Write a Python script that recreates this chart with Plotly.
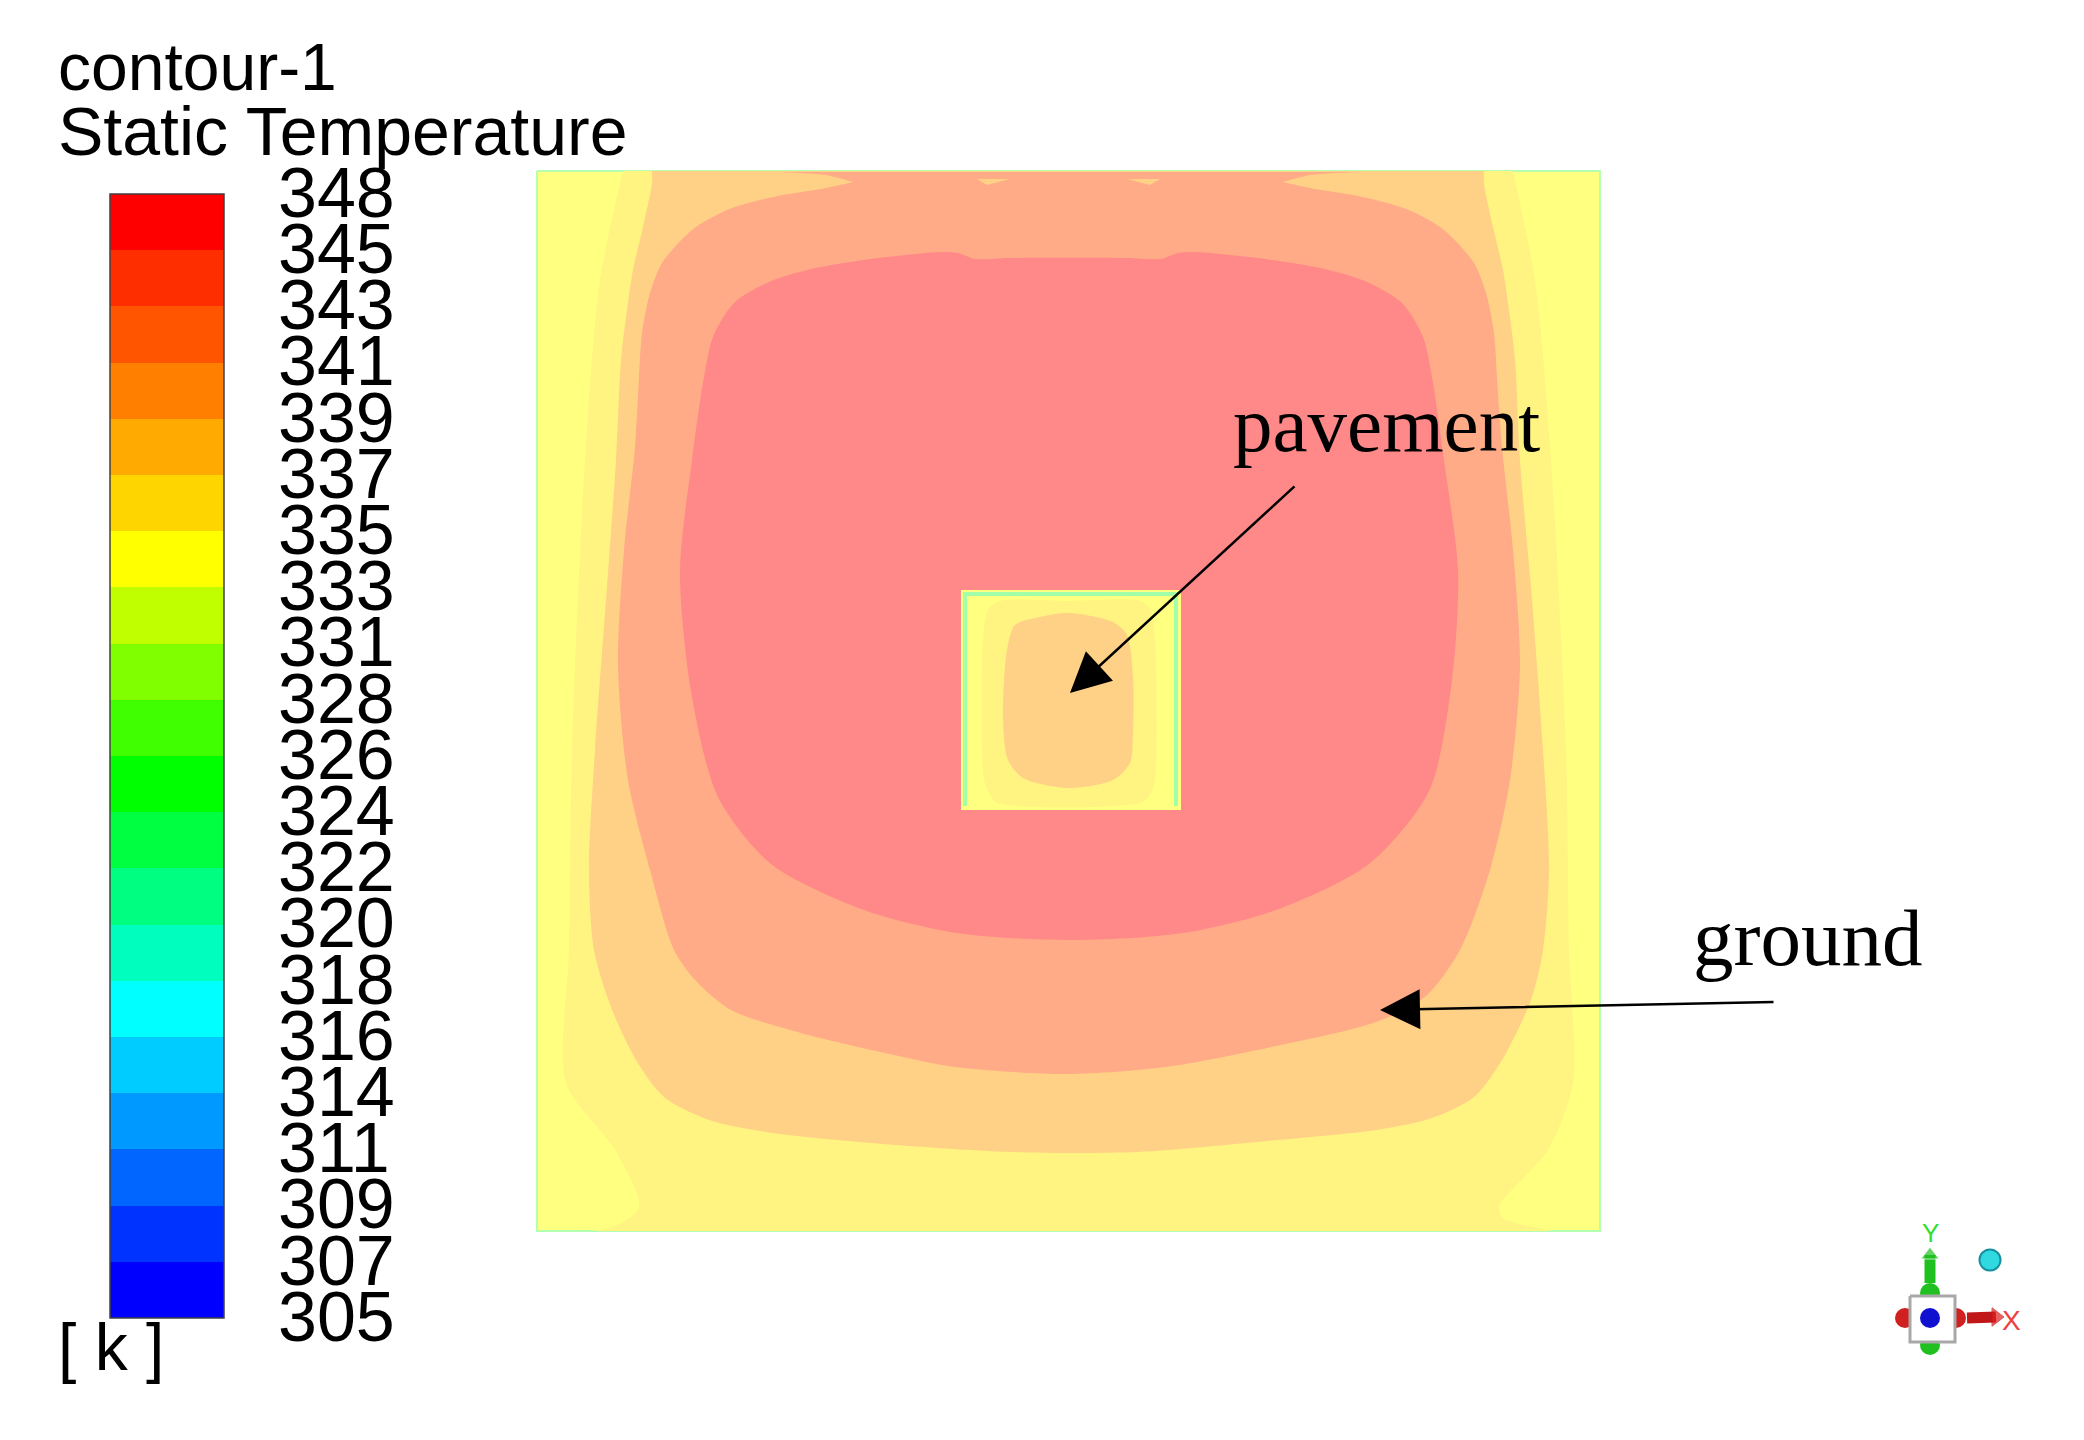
"""Static temperature contour of a pavement slab and the ground around it."""
import plotly.graph_objects as go

# canvas is the picture itself, x and y in pixels from the top left
W, H = 2084, 1440

# legend
band_colors = ["#FF0000", "#FF2E00", "#FF5500", "#FF8000", "#FFAA00", "#FFD500", "#FFFF00",
               "#BFFF00", "#80FF00", "#40FF00", "#00FF00", "#00FF40", "#00FF80", "#00FFBF",
               "#00FFFF", "#00CCFF", "#0099FF", "#0066FF", "#0033FF", "#0000FF"]
tick_labels = ["348", "345", "343", "341", "339", "337", "335", "333", "331", "328", "326",
               "324", "322", "320", "318", "316", "314", "311", "309", "307", "305"]
BAR_LEFT, BAR_RIGHT, BAR_TOP, BAR_BOTTOM = 110, 224, 194, 1318

# contour bands, outer to inner; a repeated point is a sharp corner
domain_x = [537, 1600, 1600, 537, 537]
domain_y = [171, 171, 1231, 1231, 171]

band_a = [(623, 171), (623, 171), (1513, 171), (1513, 171), (1535, 280), (1551, 460), (1566, 750),
          (1569, 950), (1573, 1083), (1548, 1150), (1499, 1207), (1503, 1218), (1537, 1228),
          (1552, 1231), (1552, 1231), (585, 1231), (585, 1231), (611, 1228), (639, 1207), (615, 1150),
          (566, 1083), (569, 950), (572, 750), (585, 460), (600, 280)]
band_b = [(652, 171), (652, 171), (1484, 171), (1484, 171), (1484, 183), (1493, 227), (1503, 270),
          (1509, 310), (1515, 360), (1520, 460), (1532, 600), (1543, 750), (1549, 870), (1543, 950),
          (1531, 1000), (1502, 1060), (1474, 1097), (1432, 1118), (1376, 1130), (1278, 1140),
          (1138, 1152), (1011, 1152), (871, 1143), (766, 1132), (709, 1120), (664, 1097), (636, 1060),
          (611, 1007), (594, 950), (589, 870), (595, 750), (606, 600), (616, 460), (621, 360),
          (627, 310), (633, 270), (643, 227), (652, 183)]
band_c = [(773, 172), (773, 172), (1363, 172), (1363, 172), (1310, 175), (1283, 182), (1283, 182),
          (1310, 188), (1363, 197), (1409, 210), (1444, 230), (1474, 263), (1486, 293), (1494, 333),
          (1497, 377), (1502, 447), (1513, 550), (1520, 665), (1510, 780), (1490, 870), (1460, 950),
          (1425, 997), (1376, 1022), (1257, 1050), (1166, 1067), (1067, 1074), (955, 1067), (885, 1053),
          (801, 1033), (731, 1010), (695, 980), (674, 950), (650, 870), (628, 780), (618, 665),
          (624, 550), (635, 447), (639, 377), (642, 333), (650, 293), (662, 263), (692, 230), (727, 210),
          (773, 197), (826, 188), (853, 182), (853, 182), (826, 175)]
band_d = [(692, 460), (704, 377), (713, 337), (734, 303), (769, 282), (807, 270), (864, 260),
          (941, 252), (958, 253), (975, 259), (1010, 258), (1126, 258), (1161, 259), (1178, 253),
          (1195, 252), (1272, 260), (1329, 270), (1367, 282), (1402, 303), (1423, 337), (1432, 377),
          (1444, 460), (1458, 571), (1452, 680), (1429, 791), (1369, 864), (1276, 910), (1183, 933),
          (1070, 940), (957, 933), (864, 910), (771, 864), (718, 797), (691, 691), (680, 571)]
sliver_left = [(977, 179), (1010, 179), (987, 185)]
sliver_right = [(1160, 179), (1127, 179), (1150, 185)]

# pavement slab
slab_x = [961, 1181, 1181, 961, 961]
slab_y = [590, 590, 810, 810, 590]
slab_edge_x = [965, 965, 1176, 1176]
slab_edge_y = [806, 594, 594, 806]
slab_a = [(1070, 601), (1140, 601), (1151, 610), (1155, 640), (1155, 780), (1150, 795), (1140, 803),
          (997, 803), (990, 795), (984, 780), (983, 640), (988, 610), (1000, 601)]
slab_b = [(1068, 613), (1113, 622), (1127, 635), (1133, 677), (1133, 733), (1130, 763), (1113, 780),
          (1068, 788), (1023, 778), (1008, 760), (1003, 717), (1007, 650), (1015, 625), (1040, 617)]

BAND_COLORS = {"a": "#FFF482", "b": "#FFD186", "c": "#FFAB88", "d": "#FF8888"}


def region(points, color, shape="spline"):
    xs, ys = zip(*points)
    return go.Scatter(x=list(xs) + [xs[0]], y=list(ys) + [ys[0]], mode="lines", fill="toself",
                      fillcolor=color, line=dict(width=0, shape=shape, smoothing=0.8),
                      hoverinfo="skip")


def label(x, y, text, size, family="Liberation Sans", color="black", anchor="left"):
    return dict(x=x, y=y, text=text, showarrow=False, xanchor=anchor, yanchor="middle",
                font=dict(size=size, family=family, color=color))


def arrow(x, y, ax, ay):
    return dict(x=x, y=y, ax=ax, ay=ay, xref="x", yref="y", axref="x", ayref="y", text="",
                showarrow=True, arrowhead=2, arrowsize=3.2, arrowwidth=2.5, arrowcolor="black")


fig = go.Figure()

fig.add_trace(go.Scatter(x=domain_x, y=domain_y, mode="lines", fill="toself", fillcolor="#FFFF80",
                         line=dict(color="#B4FFB0", width=2), hoverinfo="skip"))
fig.add_trace(region(band_a, BAND_COLORS["a"]))
fig.add_trace(region(band_b, BAND_COLORS["b"]))
fig.add_trace(region(band_c, BAND_COLORS["c"]))
fig.add_trace(region(sliver_left, BAND_COLORS["b"], shape="linear"))
fig.add_trace(region(sliver_right, BAND_COLORS["b"], shape="linear"))
fig.add_trace(region(band_d, BAND_COLORS["d"]))

fig.add_trace(go.Scatter(x=slab_x, y=slab_y, mode="lines", fill="toself", fillcolor="#FFFF80",
                         line=dict(width=0), hoverinfo="skip"))
fig.add_trace(region(slab_a, BAND_COLORS["a"]))
fig.add_trace(go.Scatter(x=slab_edge_x, y=slab_edge_y, mode="lines",
                         line=dict(color="#A0FFA8", width=4), hoverinfo="skip"))
fig.add_trace(region(slab_b, BAND_COLORS["b"]))

# triad in the corner
fig.add_trace(go.Scatter(x=[1905, 1956], y=[1318, 1318], mode="markers",
                         marker=dict(size=20, color="#D02020"), hoverinfo="skip"))
fig.add_trace(go.Scatter(x=[1930, 1930], y=[1293, 1345], mode="markers",
                         marker=dict(size=20, color="#20C020"), hoverinfo="skip"))
fig.add_trace(go.Scatter(x=[1910, 1955, 1955, 1910, 1910], y=[1296, 1296, 1342, 1342, 1296],
                         mode="lines", fill="toself", fillcolor="white",
                         line=dict(color="#A8A8A8", width=3), hoverinfo="skip"))
fig.add_trace(go.Scatter(x=[1930], y=[1318], mode="markers",
                         marker=dict(size=20, color="#1010D0"), hoverinfo="skip"))
fig.add_trace(go.Scatter(x=[1930, 1930], y=[1283, 1255], mode="lines+markers",
                         line=dict(color="#20C020", width=11),
                         marker=dict(symbol="triangle-up", size=[0, 16], color="#20C020"),
                         hoverinfo="skip"))
fig.add_trace(go.Scatter(x=[1967, 1996], y=[1318, 1317], mode="lines+markers",
                         line=dict(color="#C01818", width=11),
                         marker=dict(symbol="triangle-right", size=[0, 16], color="#E02020"),
                         hoverinfo="skip"))
fig.add_trace(go.Scatter(x=[1990], y=[1260], mode="markers", hoverinfo="skip",
                         marker=dict(size=21, color="#30D8E0", line=dict(color="#1890A0", width=2))))

# legend bar, one cell per level; half a cell of slack keeps the end labels inside the axis
n_levels = len(tick_labels)
cell = (BAR_BOTTOM - BAR_TOP) / (n_levels - 1)
fig.add_trace(go.Heatmap(
    x=[0, 1], y=list(range(n_levels)), z=[[i] for i in range(len(band_colors))],
    xaxis="x2", yaxis="y2", showscale=False, hoverinfo="skip", zmin=0, zmax=len(band_colors) - 1,
    colorscale=[[i / (len(band_colors) - 1), c] for i, c in enumerate(band_colors)]))
fig.add_shape(type="rect", xref="x", yref="y", x0=BAR_LEFT, x1=BAR_RIGHT, y0=BAR_TOP, y1=BAR_BOTTOM,
              line=dict(color="#404040", width=1.5), layer="above")

annotations = [
    label(56, 67, "contour-1", 66),
    label(56, 131, "Static Temperature", 68),
    label(56, 1347, "[ k ]", 66),
    label(1231, 424, "pavement", 79, family="Liberation Serif"),
    label(1691, 938, "ground", 81, family="Liberation Serif"),
    label(1930, 1233, "Y", 26, color="#30E030", anchor="center"),
    label(2011, 1320, "X", 28, color="#F04040", anchor="center"),
    arrow(1070, 693, 1296, 485),
    arrow(1380, 1010, 1775, 1002),
]

fig.update_layout(
    width=W, height=H, margin=dict(l=0, r=0, t=0, b=0, autoexpand=False), showlegend=False,
    paper_bgcolor="white", plot_bgcolor="white", annotations=annotations,
    xaxis=dict(range=[0, W], visible=False, domain=[0, 1], automargin=False),
    yaxis=dict(range=[H, 0], visible=False, domain=[0, 1], automargin=False),
    xaxis2=dict(domain=[BAR_LEFT / W, BAR_RIGHT / W], anchor="y2", range=[0, 1], showticklabels=False,
                ticks="", showgrid=False, zeroline=False, automargin=False),
    yaxis2=dict(domain=[1 - (BAR_BOTTOM + cell / 2) / H, 1 - (BAR_TOP - cell / 2) / H], anchor="x2",
                side="right", range=[n_levels - 0.5, -0.5],
                tickvals=[i - 0.03 for i in range(n_levels)], ticktext=tick_labels, ticks="",
                showgrid=False, zeroline=False, showline=False, ticklabelstandoff=53,
                automargin=False, tickfont=dict(size=70, family="Liberation Sans", color="black")),
)

fig.write_html("out.html", config=dict(displayModeBar=False),
               post_script="document.body.style.margin='0';")
